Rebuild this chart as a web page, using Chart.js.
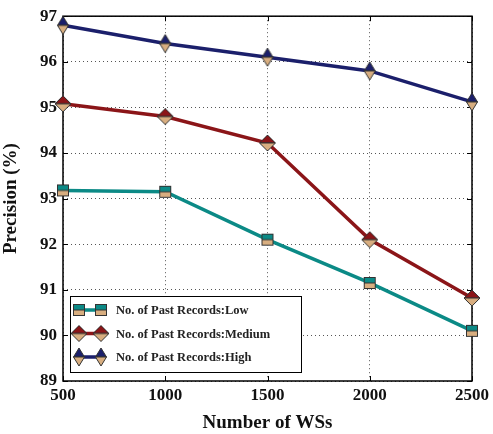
<!DOCTYPE html>
<html>
<head>
<meta charset="utf-8">
<script src="https://cdn.jsdelivr.net/npm/chart.js@4/dist/chart.umd.min.js"></script>
<style>
  html, body { margin: 0; padding: 0; background: #fff; }
  #wrap { width: 493px; height: 434px; }
</style>
</head>
<body>
<div id="wrap"><canvas id="precision"></canvas></div>
<script>
// data
const numWS = [500, 1000, 1500, 2000, 2500];
const lowRecords = [93.18, 93.15, 92.1, 91.15, 90.1];
const mediumRecords = [95.08, 94.8, 94.22, 92.1, 90.82];
const highRecords = [96.8, 96.4, 96.1, 95.8, 95.12];
const yTicks = [89, 90, 91, 92, 93, 94, 95, 96, 97];
const seriesNames = ['No. of Past Records:Low', 'No. of Past Records:Medium', 'No. of Past Records:High'];

const TEAL = '#0b8a86';
const RED = '#8b1518';
const NAVY = '#1b1f6b';
const TAN = '#d8ae80';
const EDGE = '#333';
const FONT = '"Liberation Serif", "DejaVu Serif", serif';

// two-tone markers, top half in series colour, bottom half tan
function makeMarker(kind, color) {
    const c = document.createElement('canvas');
    const s = 20;
    c.width = s; c.height = s;
    const g = c.getContext('2d');
    const m = s / 2;
    g.lineWidth = 1;
    g.strokeStyle = EDGE;
    if (kind === 'square') {
        const h = 6;
        g.fillStyle = color; g.fillRect(m - h, m - h, 2 * h, h);
        g.fillStyle = TAN; g.fillRect(m - h, m, 2 * h, h);
        g.strokeRect(m - h + 0.5, m - h + 0.5, 2 * h - 1, 2 * h - 1);
        g.beginPath(); g.moveTo(m - h, m); g.lineTo(m + h, m); g.stroke();
    } else if (kind === 'diamond') {
        const w = 8, h = 8;
        g.fillStyle = color;
        g.beginPath(); g.moveTo(m - w, m); g.lineTo(m, m - h); g.lineTo(m + w, m); g.closePath(); g.fill(); g.stroke();
        g.fillStyle = TAN;
        g.beginPath(); g.moveTo(m - w, m); g.lineTo(m, m + h); g.lineTo(m + w, m); g.closePath(); g.fill(); g.stroke();
    } else {
        const w = 5.5, h = 9;
        g.fillStyle = color;
        g.beginPath(); g.moveTo(m - w, m); g.lineTo(m, m - h); g.lineTo(m + w, m); g.closePath(); g.fill(); g.stroke();
        g.fillStyle = TAN;
        g.beginPath(); g.moveTo(m - w, m); g.lineTo(m, m + h); g.lineTo(m + w, m); g.closePath(); g.fill(); g.stroke();
    }
    return c;
}

const markers = [makeMarker('square', TEAL), makeMarker('diamond', RED), makeMarker('triangle', NAVY)];
const colors = [TEAL, RED, NAVY];
const values = [lowRecords, mediumRecords, highRecords];

const datasets = values.map((v, i) => ({
    label: seriesNames[i],
    data: v.map((y, k) => ({ x: numWS[k], y: y })),
    borderColor: colors[i],
    borderWidth: 3.5,
    pointStyle: markers[i],
    pointRadius: 8,
    clip: false,
    tension: 0
}));

// frame, inward ticks and the matplotlib-like legend box
const framePlugin = {
    id: 'frame',
    beforeDatasetsDraw(chart) {
        const { ctx, chartArea: a, scales } = chart;
        ctx.save();
        ctx.strokeStyle = '#000';
        ctx.lineWidth = 1;
        ctx.beginPath();
        numWS.forEach(v => {
            const x = Math.round(scales.x.getPixelForValue(v)) + 0.5;
            ctx.moveTo(x, a.bottom); ctx.lineTo(x, a.bottom - 5);
            ctx.moveTo(x, a.top); ctx.lineTo(x, a.top + 5);
        });
        yTicks.forEach(v => {
            const y = Math.round(scales.y.getPixelForValue(v)) + 0.5;
            ctx.moveTo(a.left, y); ctx.lineTo(a.left + 5, y);
            ctx.moveTo(a.right, y); ctx.lineTo(a.right - 5, y);
        });
        ctx.stroke();
        ctx.lineWidth = 1.5;
        ctx.strokeRect(a.left, a.top, a.right - a.left, a.bottom - a.top);
        ctx.restore();
    },
    afterDraw(chart) {
        const { ctx, chartArea: a } = chart;
        const bx = a.left + 7, by = a.bottom - 85, bw = 231, bh = 76;
        ctx.save();
        ctx.fillStyle = '#fff';
        ctx.fillRect(bx, by, bw, bh);
        ctx.strokeStyle = '#000';
        ctx.lineWidth = 1;
        ctx.strokeRect(bx + 0.5, by + 0.5, bw, bh);
        ctx.font = 'bold 12.5px ' + FONT;
        ctx.textBaseline = 'middle';
        for (let i = 0; i < 3; i++) {
            const y = by + 14 + i * 23.5;
            ctx.strokeStyle = colors[i];
            ctx.lineWidth = 3.5;
            ctx.beginPath(); ctx.moveTo(bx + 9, y); ctx.lineTo(bx + 31, y); ctx.stroke();
            ctx.drawImage(markers[i], bx + 9 - 10, y - 10);
            ctx.drawImage(markers[i], bx + 31 - 10, y - 10);
            ctx.fillStyle = '#222';
            ctx.fillText(seriesNames[i], bx + 46, y + 1);
        }
        ctx.restore();
    }
};

const gridStyle = {
    color: '#555',
    lineWidth: 1,
    drawTicks: false
};

new Chart(document.getElementById('precision'), {
    type: 'line',
    data: { datasets },
    options: {
        responsive: true,
        maintainAspectRatio: false,
        animation: false,
        layout: { padding: { top: 16, right: 20, left: 0, bottom: 0 } },
        plugins: {
            legend: { display: false },
            tooltip: { enabled: false }
        },
        scales: {
            x: {
                type: 'linear',
                min: 500,
                max: 2500,
                afterBuildTicks: s => { s.ticks = numWS.map(v => ({ value: v })); },
                afterFit: s => { s.height = 53; },
                grid: gridStyle,
                border: { display: false, dash: [1, 3] },
                ticks: {
                    padding: 4,
                    color: '#111',
                    callback: v => String(v),
                    font: { family: FONT, size: 17, weight: 'bold' }
                },
                title: {
                    display: true,
                    text: 'Number of WSs',
                    color: '#111',
                    padding: { top: 0, bottom: 0 },
                    font: { family: FONT, size: 19, weight: 'bold' }
                }
            },
            y: {
                min: 89,
                max: 97,
                afterBuildTicks: s => { s.ticks = yTicks.map(v => ({ value: v })); },
                afterFit: s => { s.width = 63; },
                grid: gridStyle,
                border: { display: false, dash: [1, 3] },
                ticks: {
                    padding: 6,
                    color: '#111',
                    callback: v => String(v),
                    font: { family: FONT, size: 17, weight: 'bold' }
                },
                title: {
                    display: true,
                    text: 'Precision (%)',
                    color: '#111',
                    padding: { top: 0, bottom: 2 },
                    font: { family: FONT, size: 19, weight: 'bold' }
                }
            }
        }
    },
    plugins: [framePlugin]
});
</script>
</body>
</html>
